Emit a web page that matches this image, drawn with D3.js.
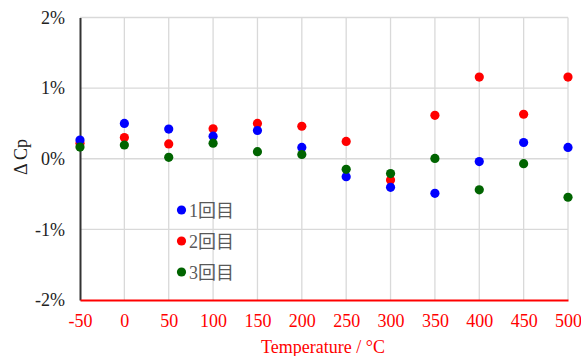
<!DOCTYPE html>
<html><head><meta charset="utf-8">
<script src="https://cdn.jsdelivr.net/npm/d3@7"></script>
<style>body{margin:0;background:#fff}svg{display:block}</style>
</head><body><svg id="c" width="581" height="356"></svg>
<script>
const temps = [-50,0,50,100,150,200,250,300,350,400,450,500];
const run1 = [0.265,0.50,0.42,0.32,0.40,0.16,-0.255,-0.405,-0.49,-0.04,0.23,0.16];
const run2 = [0.22,0.30,0.21,0.425,0.50,0.46,0.245,-0.30,0.615,1.157,0.63,1.157];
const run3 = [0.165,0.195,0.02,0.22,0.10,0.06,-0.15,-0.21,0.005,-0.44,-0.07,-0.545];
const seriesNames = ["1回目","2回目","3回目"];
const seriesColors = ["#0000ff","#ff0000","#006400"];
const yTicks = [-2,-1,0,1,2];
const xTicks = [-50,0,50,100,150,200,250,300,350,400,450,500];

const svg = d3.select("#c");
const L=80,R=568,T=17.5,B=300;
const x = d3.scaleLinear().domain([-50,500]).range([L,R]);
const y = d3.scaleLinear().domain([-2,2]).range([B,T]);
const font = "'Liberation Serif','Times New Roman',serif";

// gridlines
svg.append("g").selectAll("line").data(xTicks.slice(1)).join("line")
  .attr("x1",d=>x(d)).attr("x2",d=>x(d)).attr("y1",T).attr("y2",B)
  .attr("stroke","#d9d9d9").attr("stroke-width",1.3);
svg.append("g").selectAll("line").data(yTicks.slice(1)).join("line")
  .attr("x1",L).attr("x2",R).attr("y1",d=>y(d)).attr("y2",d=>y(d))
  .attr("stroke","#d9d9d9").attr("stroke-width",1.3);

// axes
const yAxis = svg.append("g").attr("transform",`translate(${L},0)`)
  .call(d3.axisLeft(y).tickValues(yTicks).tickSize(0).tickPadding(15).tickFormat(d=>String(d)+"%"));
yAxis.select(".domain").attr("stroke","#333").attr("stroke-width",2);
yAxis.selectAll("text").attr("font-family",font).attr("font-size",18).attr("fill","#222");

const xAxis = svg.append("g").attr("transform",`translate(0,${B})`)
  .call(d3.axisBottom(x).tickValues(xTicks).tickSize(0).tickPadding(14).tickFormat(d=>String(d)));
xAxis.select(".domain").attr("stroke","#ff0000").attr("stroke-width",2);
xAxis.selectAll("text").attr("font-family",font).attr("font-size",18).attr("fill","#ff0000");

// titles
svg.append("text").attr("x",323).attr("y",353).attr("text-anchor","middle")
  .attr("font-family",font).attr("font-size",18).attr("fill","#ff0000").text("Temperature / °C");
svg.append("text").attr("transform",`translate(27,157) rotate(-90)`).attr("text-anchor","middle")
  .attr("font-family",font).attr("font-size",18).attr("fill","#222").text("Δ Cp");

// points (draw order red, blue, green)
const data = [run1,run2,run3];
[1,0,2].forEach(i=>{
  svg.append("g").selectAll("circle").data(temps.map((t,j)=>({t,v:data[i][j]}))).join("circle")
    .attr("cx",d=>x(d.t)).attr("cy",d=>y(d.v)).attr("r",4.6).attr("fill",seriesColors[i]);
});

// legend
const lg = svg.append("g");
seriesNames.forEach((n,i)=>{
  const yy = 210 + i*31;
  lg.append("circle").attr("cx",181.5).attr("cy",yy).attr("r",4.6).attr("fill",seriesColors[i]);
  lg.append("text").attr("x",189).attr("y",yy+6.5).attr("font-family","'Liberation Serif','Noto Sans CJK JP',serif")
    .attr("font-size",18).attr("fill","#595959").text(n);
});
</script></body></html>
